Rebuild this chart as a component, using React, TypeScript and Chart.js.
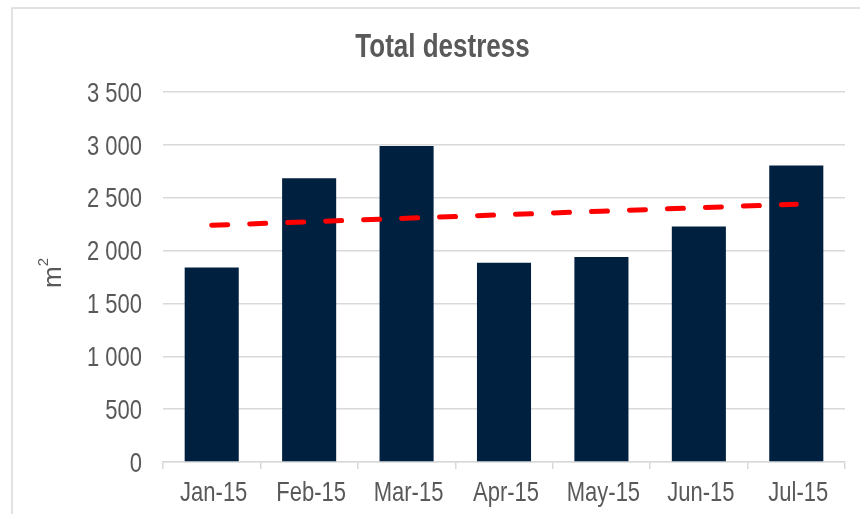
import React, { useEffect, useRef } from "react";
import { Chart, registerables } from "chart.js";

Chart.register(...registerables);

// Monthly totals (m²)
const months = ["Jan-15", "Feb-15", "Mar-15", "Apr-15", "May-15", "Jun-15", "Jul-15"];
const destress = [1840, 2685, 2990, 1885, 1940, 2228, 2805];

const yMin = 0;
const yMax = 3500;
const yStep = 500;

const chartTitle = "Total destress";
const unitBase = "m";
const unitPower = "2";

const TEXT = "#595959";
const GRID = "#d9d9d9";
const FONT = "'Liberation Sans', Arial, sans-serif";
// Labels are drawn with a slightly tall, narrow look
const STRETCH = 1.25;

// Ordinary least-squares linear trend through the bars
function linearTrend(values: number[]): number[] {
  const n = values.length;
  const xs = values.map((_, i) => i + 1);
  const mx = xs.reduce((a, b) => a + b, 0) / n;
  const my = values.reduce((a, b) => a + b, 0) / n;
  let num = 0;
  let den = 0;
  xs.forEach((x, i) => {
    num += (x - mx) * (values[i] - my);
    den += (x - mx) * (x - mx);
  });
  const slope = num / den;
  return xs.map((x) => my + slope * (x - mx));
}

const formatThousands = (v: number) =>
  String(v).replace(/\B(?=(\d{3})+(?!\d))/g, " ");

function tallText(
  ctx: CanvasRenderingContext2D,
  text: string,
  x: number,
  baseline: number,
  font: string,
  align: CanvasTextAlign
) {
  ctx.save();
  ctx.translate(x, baseline);
  ctx.scale(1, STRETCH);
  ctx.font = font;
  ctx.textAlign = align;
  ctx.textBaseline = "alphabetic";
  ctx.fillText(text, 0, 0);
  ctx.restore();
}

// Frame, heading, unit label and axis labels
const decorPlugin = {
  id: "decor",
  beforeDraw(chart: Chart) {
    const { ctx, width, height } = chart;
    ctx.save();
    ctx.fillStyle = "#ffffff";
    ctx.fillRect(0, 0, width, height);
    ctx.strokeStyle = GRID;
    ctx.lineWidth = 1.5;
    ctx.strokeRect(12, 8, width + 20, height + 20);
    ctx.restore();
  },
  afterDraw(chart: Chart) {
    const { ctx, chartArea } = chart;
    const xScale: any = chart.scales.x;
    const yScale: any = chart.scales.y;
    ctx.save();
    ctx.fillStyle = TEXT;

    tallText(ctx, chartTitle, 442.5, 56.5, `bold 26px ${FONT}`, "center");

    // y tick labels
    yScale.ticks.forEach((t: any) => {
      const py = yScale.getPixelForValue(t.value);
      tallText(ctx, formatThousands(t.value), chartArea.left - 21, py + 9.7, `22px ${FONT}`, "right");
    });

    // x category labels
    xScale.getLabels().forEach((label: string, i: number) => {
      const px = xScale.getPixelForTick(i);
      tallText(ctx, label, px + 2, chartArea.bottom + 39, `22px ${FONT}`, "center");
    });

    // rotated unit label with superscript
    const midY = (chartArea.top + chartArea.bottom) / 2;
    ctx.save();
    ctx.translate(61, midY + 11);
    ctx.rotate(-Math.PI / 2);
    ctx.textBaseline = "alphabetic";
    ctx.textAlign = "left";
    ctx.font = `26px ${FONT}`;
    ctx.fillText(unitBase, 0, 0);
    const mw = ctx.measureText(unitBase).width;
    ctx.font = `15px ${FONT}`;
    ctx.fillText(unitPower, mw, -13);
    ctx.restore();

    ctx.restore();
  },
};

export default function App() {
  const canvasRef = useRef<HTMLCanvasElement>(null);

  useEffect(() => {
    if (!canvasRef.current) return;
    const chart = new Chart(canvasRef.current, {
      type: "bar",
      data: {
        labels: months,
        datasets: [
          {
            type: "line",
            label: "Trend",
            data: linearTrend(destress),
            borderColor: "#ff0000",
            borderWidth: 5,
            borderDash: [16, 22],
            borderCapStyle: "round",
            pointRadius: 0,
            tension: 0,
            fill: false,
            order: 0,
          },
          {
            type: "bar",
            label: chartTitle,
            data: destress,
            backgroundColor: "#00203f",
            categoryPercentage: 1,
            barPercentage: 0.555,
            order: 1,
          },
        ],
      },
      options: {
        responsive: false,
        animation: false,
        layout: { padding: { top: 92, right: 15, bottom: 0, left: 0 } },
        plugins: {
          legend: { display: false },
          tooltip: { enabled: false },
          title: { display: false },
        },
        scales: {
          x: {
            offset: true,
            grid: {
              offset: true,
              drawOnChartArea: false,
              drawTicks: true,
              tickLength: 7,
              color: GRID,
              lineWidth: 1.5,
            },
            border: { display: true, color: GRID, width: 1.5 },
            ticks: { display: false },
            afterFit: (scale: any) => {
              scale.height = 52;
            },
          },
          y: {
            min: yMin,
            max: yMax,
            grid: { color: GRID, lineWidth: 1.5, drawTicks: false },
            border: { display: false },
            ticks: { display: false, stepSize: yStep },
            afterFit: (scale: any) => {
              scale.width = 163;
            },
          },
        },
      },
      plugins: [decorPlugin],
    });
    return () => chart.destroy();
  }, []);

  return (
    <div style={{ position: "fixed", left: 0, top: 0, width: 860, height: 514 }}>
      <canvas ref={canvasRef} width={860} height={514} />
    </div>
  );
}
